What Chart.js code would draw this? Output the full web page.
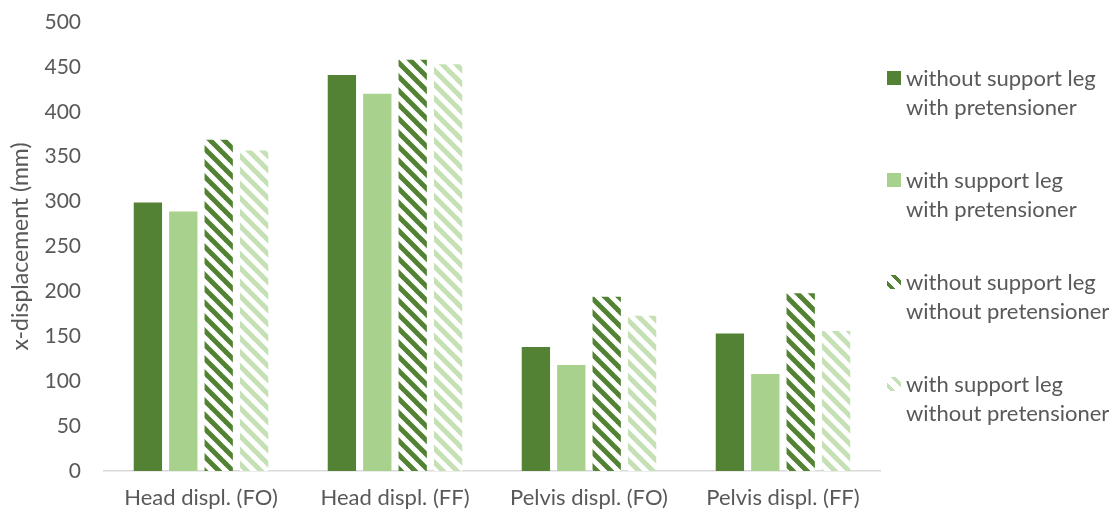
<!DOCTYPE html>
<html>
<head>
<meta charset="utf-8">
<script src="https://cdn.jsdelivr.net/npm/chart.js@4/dist/chart.umd.min.js"></script>
<style>
  html, body { margin: 0; padding: 0; background: #fff; }
  #wrap { position: relative; width: 1119px; height: 514px; }
  #legend { position: absolute; left: 887px; top: 63px; font-family: Lato, "Open Sans", sans-serif; font-size: 22px; color: #595959; }
  .item { position: relative; height: 102px; }
  .sw { position: absolute; left: 0; top: 8px; width: 14px; height: 14px; }
  .txt { position: absolute; left: 19px; top: 0; line-height: 29px; white-space: nowrap; }
</style>
</head>
<body>
<div id="wrap">
  <canvas id="c" width="1119" height="514"></canvas>
  <div id="legend"></div>
</div>
<script>
const categories = ["Head displ. (FO)", "Head displ. (FF)", "Pelvis displ. (FO)", "Pelvis displ. (FF)"];
const seriesNames = [
  ["without support leg", "with pretensioner"],
  ["with support leg", "with pretensioner"],
  ["without support leg", "without pretensioner"],
  ["with support leg", "without pretensioner"]
];
const withoutLegWithPret = [299, 441, 138, 153];
const withLegWithPret = [289, 420, 118, 108];
const withoutLegWithoutPret = [369, 458, 194, 198];
const withLegWithoutPret = [357, 453, 173, 156];
const yTicks = [0, 50, 100, 150, 200, 250, 300, 350, 400, 450, 500];
const yTitle = "x-displacement (mm)";

const DARK = "#548235", LIGHT = "#A9D18E", PALE = "#C5E0B4";

function hatch(color) {
  const s = 14;
  const cv = document.createElement("canvas");
  cv.width = s; cv.height = s;
  const g = cv.getContext("2d");
  g.fillStyle = "#fff";
  g.fillRect(0, 0, s, s);
  g.strokeStyle = color;
  g.lineWidth = 5;
  for (const k of [-s, 0, s]) {
    g.beginPath();
    g.moveTo(k - 2, -2);
    g.lineTo(k + s + 2, s + 2);
    g.stroke();
  }
  return document.getElementById("c").getContext("2d").createPattern(cv, "repeat");
}

const fills = [DARK, LIGHT, hatch(DARK), hatch(PALE)];
const dataArr = [withoutLegWithPret, withLegWithPret, withoutLegWithoutPret, withLegWithoutPret];

const FONT = "Lato, 'Open Sans', sans-serif";
const chart = new Chart(document.getElementById("c"), {
  type: "bar",
  data: {
    labels: categories,
    datasets: dataArr.map((d, i) => ({
      label: seriesNames[i].join(" "),
      data: d,
      backgroundColor: fills[i],
      borderWidth: 0,
      categoryPercentage: 0.73,
      barPercentage: 0.8
    }))
  },
  options: {
    responsive: false,
    animation: false,
    layout: { padding: { top: 22, right: 239, left: 0, bottom: 0 } },
    plugins: { legend: { display: false }, tooltip: { enabled: false } },
    scales: {
      x: {
        grid: { display: false, drawTicks: false },
        border: { display: true, color: "#D9D9D9", width: 1.5 },
        ticks: { color: "#595959", font: { family: FONT, size: 22 }, padding: 14, maxRotation: 0 },
        afterFit: s => { s.height = 43; s.paddingLeft = 0; s.paddingRight = 0; }
      },
      y: {
        min: 0, max: 500,
        afterBuildTicks: s => { s.ticks = yTicks.map(v => ({ value: v })); },
        grid: { display: false, drawTicks: false },
        border: { display: false },
        ticks: { color: "#595959", font: { family: FONT, size: 21 }, padding: 23 },
        title: { display: true, text: yTitle, color: "#595959", font: { family: FONT, size: 23 }, padding: { top: 7, bottom: 0 } },
        afterFit: s => { s.width = 104; s.paddingTop = 0; s.paddingBottom = 0; }
      }
    }
  }
});

// HTML legend
const leg = document.getElementById("legend");
const swBg = [
  DARK, LIGHT,
  `repeating-linear-gradient(45deg, #fff 0 2.5px, ${DARK} 2.5px 6px, #fff 6px 10px)`,
  `repeating-linear-gradient(45deg, #fff 0 2.5px, ${PALE} 2.5px 6px, #fff 6px 10px)`
];
seriesNames.forEach((n, i) => {
  const it = document.createElement("div");
  it.className = "item";
  const sw = document.createElement("div");
  sw.className = "sw";
  sw.style.background = swBg[i];
  const tx = document.createElement("div");
  tx.className = "txt";
  tx.innerHTML = n[0] + "<br>" + n[1];
  it.appendChild(sw); it.appendChild(tx);
  leg.appendChild(it);
});
</script>
</body>
</html>
